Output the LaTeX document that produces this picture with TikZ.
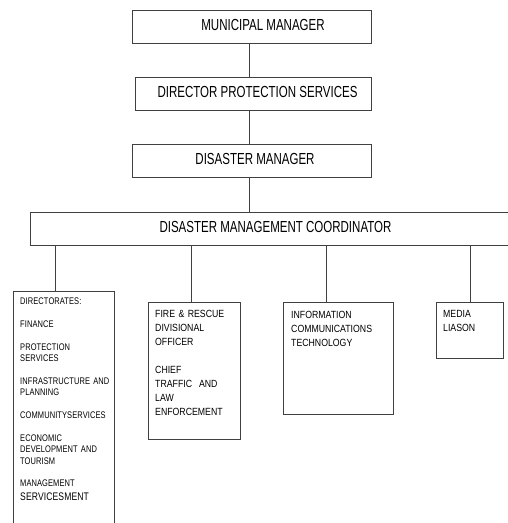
\documentclass[tikz,border=0pt]{standalone}
\usepackage{fontspec}
\setmainfont{Liberation Sans}
\newfontfamily\headfont[FakeStretch=0.72]{Liberation Sans}
\newfontfamily\bodyfont[FakeStretch=0.84]{Liberation Sans}
\newfontfamily\dirfont[FakeStretch=0.78,LetterSpace=1]{Liberation Sans}
\usepackage{xcolor}
\definecolor{boxline}{RGB}{64,64,64}
\tikzset{
  box/.style={draw=boxline,line width=1pt,inner sep=0pt,anchor=north west},
  headbox/.style={box,font=\headfont\fontsize{16}{18}\selectfont,text depth=4pt,text height=11.5pt},
  bodytext/.style={anchor=base west,inner sep=0pt,align=left,text width=#1,
    font=\bodyfont\fontsize{10.4}{14}\selectfont},
  dirtext/.style={anchor=base west,inner sep=0pt,align=left,text width=#1,
    font=\dirfont\fontsize{9.6}{11.4}\selectfont},
  link/.style={draw=boxline,line width=1pt}
}

\begin{document}
\begin{tikzpicture}[x=1pt,y=-1pt]
  \useasboundingbox (0,0) rectangle (508,523);
  % chain of command
  \node[headbox,minimum width=239pt,minimum height=33pt] (mm) at (132,10) {\hspace*{22pt}MUNICIPAL MANAGER};
  \node[headbox,minimum width=236pt,minimum height=33pt] (dps) at (135,77) {\hspace*{8pt}DIRECTOR PROTECTION SERVICES};
  \node[headbox,minimum width=239pt,minimum height=33pt] (dm) at (132,144) {\hspace*{6pt}DISASTER MANAGER};
  \node[headbox,minimum width=490pt,minimum height=33pt] (dmc) at (30,212) {DISASTER MANAGEMENT COORDINATOR};
  % units below the coordinator
  \node[box,minimum width=101pt,minimum height=245pt] (dir) at (13,291) {};
  \node[box,minimum width=92pt,minimum height=137pt] (fire) at (148,302) {};
  \node[box,minimum width=110pt,minimum height=112pt] (ict) at (283,302) {};
  \node[box,minimum width=67pt,minimum height=56pt] (media) at (436,302) {};
  \node[dirtext=95pt] (dirtxt) at (20,304.5) {DIRECTORATES:\\[11.4pt]
    FINANCE\\[11.4pt]
    PROTECTION\\SERVICES\\[11.4pt]
    INFRASTRUCTURE AND\\PLANNING\\[11.4pt]
    COMMUNITYSERVICES\\[11.4pt]
    ECONOMIC\\DEVELOPMENT AND\\TOURISM\\[11.4pt]
    MANAGEMENT\\[2.6pt]{\fontsize{11}{12}\selectfont SERVICESMENT}};
  \node[bodytext=85pt] (firetxt) at (155,317.6) {FIRE \& RESCUE\\DIVISIONAL\\OFFICER\\[14pt]
    CHIEF\\TRAFFIC\ \ AND\\LAW\\ENFORCEMENT};
  \node[bodytext=100pt] (icttxt) at (291,318.6) {INFORMATION\\COMMUNICATIONS\\TECHNOLOGY};
  \node[bodytext=60pt] (mediatxt) at (443,317.6) {MEDIA\\LIASON};
  % connectors
  \coordinate (spine) at (249,0);
  \draw[link] (mm.south -| spine) -- (dps.north -| spine);
  \draw[link] (dps.south -| spine) -- (dm.north -| spine);
  \draw[link] (dm.south -| spine) -- (dmc.north -| spine);
  \foreach \n/\x in {dir/55,fire/191,ict/326,media/470}{
    \coordinate (c\n) at (\x,0);
    \draw[link] (dmc.south -| c\n) -- (\n.north -| c\n);
  }
\end{tikzpicture}
\end{document}
